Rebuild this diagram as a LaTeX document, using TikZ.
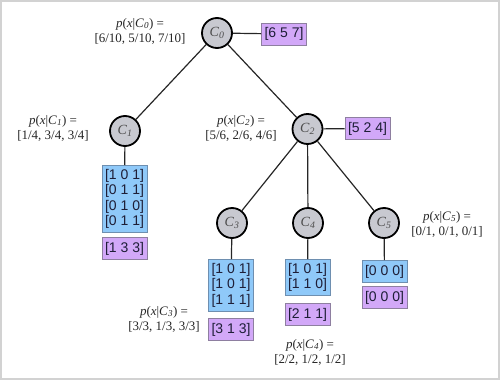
\documentclass[tikz,border=0pt]{standalone}
\usepackage{fontspec}
\setmainfont{Liberation Serif}
\newfontfamily\boxfont{Liberation Sans}
\definecolor{cellblue}{RGB}{143,201,249}
\definecolor{cellblueline}{RGB}{110,143,176}
\definecolor{sumpurple}{RGB}{210,168,248}
\definecolor{sumpurpleline}{RGB}{142,127,160}
\definecolor{clustergray}{RGB}{200,201,208}
\definecolor{boxtext}{RGB}{30,30,55}
\newcommand{\pxc}[1]{\textit{p}(\textit{x}|\textit{C}\textsubscript{\textit{#1}}) =}
\newcommand{\cname}[1]{\textit{C}\textsubscript{\textit{#1}}}
\tikzset{
  cluster/.style={circle,draw=black,line width=1.8pt,fill=clustergray,minimum size=30pt,inner sep=0pt,
    font=\fontsize{14}{16}\selectfont,text=black!70},
  databox/.style={draw=cellblueline,line width=0.9pt,fill=cellblue,minimum width=45pt,inner xsep=3pt,inner ysep=3.8pt,
    align=center,font=\boxfont\fontsize{14}{15.5}\selectfont,text=boxtext},
  sumbox/.style={databox,draw=sumpurpleline,fill=sumpurple,minimum height=22pt},
  problabel/.style={align=center,font=\fontsize{13}{15}\selectfont,text=black!85},
  link/.style={line width=1.2pt,black!85}
}
\begin{document}
\begin{tikzpicture}[x=1pt,y=-1pt]
  \useasboundingbox (0,0) rectangle (500,380);
  \draw[gray!35,line width=2pt] (1,1) rectangle (498.5,378.5);
  % clusters
  \node[cluster] (c0) at (217,33) {\cname{0}};
  \node[cluster] (c1) at (125,131) {\cname{1}};
  \node[cluster] (c2) at (307.5,129) {\cname{2}};
  \node[cluster] (c3) at (232,223) {\cname{3}};
  \node[cluster] (c4) at (308,223) {\cname{4}};
  \node[cluster] (c5) at (384,223) {\cname{5}};
  % counts
  \node[sumbox] (s0) at (284,34) {[6 5 7]};
  \node[sumbox] (s2) at (367.5,128.5) {[5 2 4]};
  \node[databox,anchor=north] (d1) at (124.5,165) {[1 0 1]\\{}[0 1 1]\\{}[0 1 0]\\{}[0 1 1]};
  \node[sumbox,anchor=north] (s1) at (124.5,237) {[1 3 3]};
  \node[databox,anchor=north] (d3) at (231,259) {[1 0 1]\\{}[1 0 1]\\{}[1 1 1]};
  \node[sumbox,anchor=north] (s3) at (231,318) {[3 1 3]};
  \node[databox,anchor=north] (d4) at (307.5,259) {[1 0 1]\\{}[1 1 0]};
  \node[sumbox,anchor=north] (s4) at (307.5,303) {[2 1 1]};
  \node[databox,anchor=north,minimum height=22pt] (d5) at (384.5,260) {[0 0 0]};
  \node[sumbox,anchor=north] (s5) at (384.5,286) {[0 0 0]};
  % probabilities
  \node[problabel] (p0) at (140,31) {\pxc{0}\\{}[6/10, 5/10, 7/10]};
  \node[problabel] (p1) at (53,128) {\pxc{1}\\{}[1/4, 3/4, 3/4]};
  \node[problabel] (p2) at (241,128) {\pxc{2}\\{}[5/6, 2/6, 4/6]};
  \node[problabel] (p3) at (164,319) {\pxc{3}\\{}[3/3, 1/3, 3/3]};
  \node[problabel] (p4) at (310,352) {\pxc{4}\\{}[2/2, 1/2, 1/2]};
  \node[problabel] (p5) at (447,224) {\pxc{5}\\{}[0/1, 0/1, 0/1]};
  % tree
  \draw[link] (c0) -- (c1);
  \draw[link] (c0) -- (c2);
  \draw[link] (c2) -- (c3);
  \draw[link] (c2) -- (c4);
  \draw[link] (c2) -- (c5);
  \draw[link] (c0) -- (s0);
  \draw[link] (c2) -- (s2);
  \draw[link] (c1) -- (d1);
  \draw[link] (c3) -- (d3);
  \draw[link] (c4) -- (d4);
  \draw[link] (c5) -- (d5);
\end{tikzpicture}
\end{document}
